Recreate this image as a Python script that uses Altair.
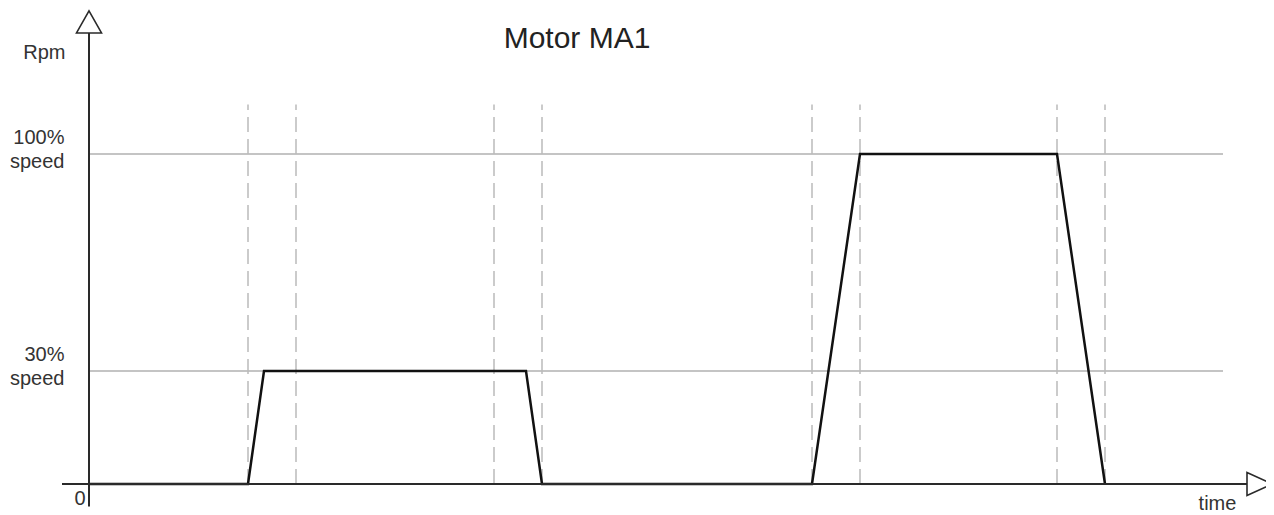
import altair as alt
import pandas as pd

# ---- data ----
title_text = "Motor MA1"
y_title = "Rpm"
x_title = "time"
zero_label = "0"
level_values = [30, 100]
level_labels = [["30%", "speed"], ["100%", "speed"]]

signal_t = [0, 159, 175, 437, 453, 723, 771, 968, 1016]
signal_rpm = [0, 0, 30, 30, 0, 0, 100, 100, 0]
dash_t = [159, 207, 405, 453, 723, 771, 968, 1016]
dash_top = 116
grid_end = 1134
time_axis_extent = [-27, 1158]
rpm_axis_extent = [-6, 139]
arrow_up_rpm = 142.6
arrow_right_t = 1170.5

FONT = "Liberation Sans"
TXT = "#333333"

label_expr = " : ".join(
    f"datum.value == {v} ? {l!r}" for v, l in zip(level_values, level_labels)
) + " : ''"

xscale = alt.Scale(domain=[0, 1000], range=[81, 1081], zero=False, nice=False)
yscale = alt.Scale(domain=[0, 30, 100], range=[476, 363, 146], zero=False, nice=False)

xaxis = alt.Axis(
    values=[0], labelExpr=f"'{zero_label}'", domain=False, ticks=False, grid=False,
    labelAlign="right", labelBaseline="top", labelPadding=4, labelOffset=-4,
    labelFlush=False, labelFontSize=20, labelFont=FONT, labelColor=TXT,
    title=x_title, titleX=1209, titleY=25, titleAlign="center",
    titleBaseline="alphabetic", titleFontSize=20, titleFont=FONT,
    titleFontWeight="normal", titleColor=TXT,
)
yaxis = alt.Axis(
    values=level_values, labelExpr=label_expr, domain=False, ticks=False, grid=False,
    offset=-81, labelPadding=25, labelAlign="right", labelBaseline="middle",
    labelLineHeight=24, labelOffset=-17, labelFontSize=20, labelFont=FONT,
    labelColor=TXT, labelOverlap=False, labelFlush=False,
    title=y_title, titleAngle=0, titleAlign="right", titleBaseline="alphabetic",
    titleX=-24, titleY=50.5, titleFontSize=20, titleFont=FONT,
    titleFontWeight="normal", titleColor=TXT,
)


def X(f, **kw):
    return alt.X(f, type="quantitative", scale=xscale, axis=xaxis, **kw)


def Y(f, **kw):
    return alt.Y(f, type="quantitative", scale=yscale, axis=yaxis, **kw)


grid_df = pd.DataFrame({"t0": [0] * len(level_values), "t1": [grid_end] * len(level_values),
                        "rpm": level_values})
dash_df = pd.DataFrame({"t": dash_t, "y0": [0] * len(dash_t), "y1": [dash_top] * len(dash_t)})
signal_df = pd.DataFrame({"t": signal_t, "rpm": signal_rpm})
haxis_df = pd.DataFrame({"t0": [time_axis_extent[0]], "t1": [time_axis_extent[1]], "rpm": [0]})
vaxis_df = pd.DataFrame({"t": [0], "y0": [rpm_axis_extent[0]], "y1": [rpm_axis_extent[1]]})
up_df = pd.DataFrame({"t": [0], "rpm": [arrow_up_rpm]})
right_df = pd.DataFrame({"t": [arrow_right_t], "rpm": [0]})

grid = alt.Chart(grid_df).mark_rule(color="#c4c4c4", strokeWidth=2).encode(
    x=X("t0"), x2="t1", y=Y("rpm"))
dashes = alt.Chart(dash_df).mark_rule(color="#bbbbbb", strokeWidth=1.5, strokeDash=[15, 7]).encode(
    x=X("t"), y=Y("y0"), y2="y1")
haxis = alt.Chart(haxis_df).mark_rule(color="#2a2a2a", strokeWidth=2).encode(
    x=X("t0"), x2="t1", y=Y("rpm"))
vaxis = alt.Chart(vaxis_df).mark_rule(color="#2a2a2a", strokeWidth=2).encode(
    x=X("t"), y=Y("y0"), y2="y1")
signal = alt.Chart(signal_df).mark_line(color="#111111", strokeWidth=2.5, strokeJoin="miter").encode(
    x=X("t"), y=Y("rpm"), order="t:Q")
up = alt.Chart(up_df).mark_point(
    shape="M0,-0.88L1,0.88L-1,0.88Z", size=625, filled=True, fill="white",
    stroke="#2a2a2a", strokeWidth=1.6, opacity=1, fillOpacity=1).encode(x=X("t"), y=Y("rpm"))
right = alt.Chart(right_df).mark_point(
    shape="M-1,-0.92L1,0L-1,0.92Z", size=625, filled=True, fill="white",
    stroke="#2a2a2a", strokeWidth=1.6, opacity=1, fillOpacity=1).encode(x=X("t"), y=Y("rpm"))

chart = alt.layer(grid, dashes, signal, haxis, vaxis, up, right).properties(
    width=1258, height=476,
    background="white",
    autosize=alt.AutoSizeParams(type="none"),
    padding={"left": 0, "top": 0, "right": 0, "bottom": 31},
    title=alt.TitleParams(title_text, fontSize=30, font=FONT, color="#222222",
                          fontWeight="normal", anchor="middle", dx=-60, dy=70,
                          offset=0, baseline="alphabetic"),
).configure_view(strokeWidth=0, stroke="transparent")

chart.save("out.html", embed_options={"renderer": "svg", "actions": False})
